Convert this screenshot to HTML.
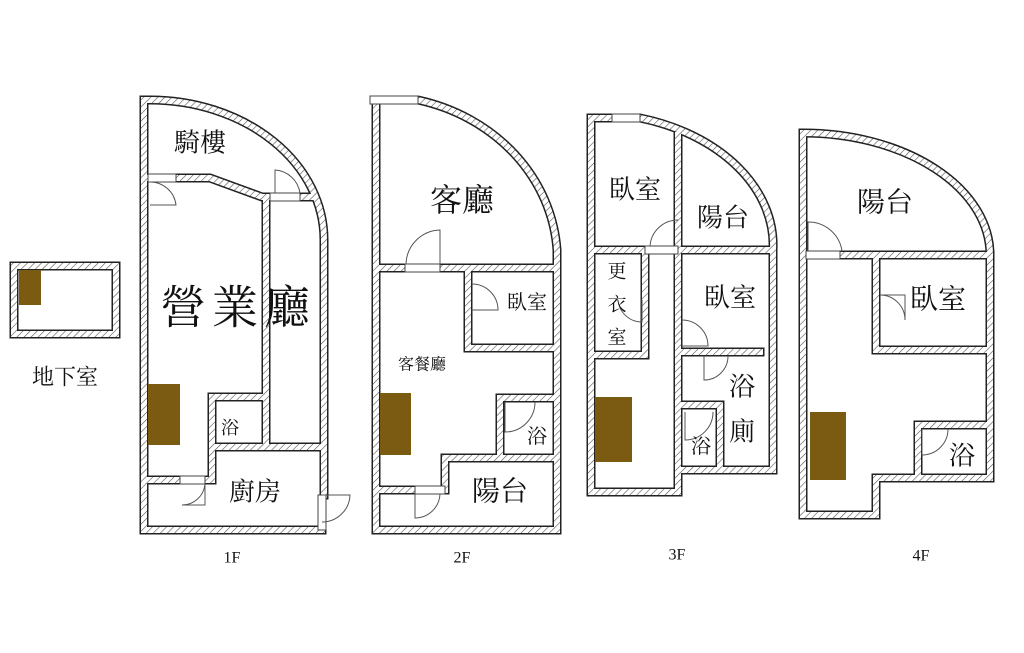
<!DOCTYPE html>
<html><head><meta charset="utf-8"><style>
html,body{margin:0;padding:0;background:#fff;}
svg{display:block}
text{font-family:"Liberation Serif","Noto Serif CJK SC","Noto Sans CJK TC",serif;fill:#111;text-anchor:middle;dominant-baseline:central}
</style></head><body>
<svg width="1024" height="653" viewBox="0 0 1024 653" xmlns="http://www.w3.org/2000/svg">
<defs>
<pattern id="h" width="5" height="5" patternUnits="userSpaceOnUse" patternTransform="rotate(45)">
<rect width="5" height="5" fill="#fff"/><line x1="0" y1="0" x2="0" y2="5" stroke="#555" stroke-width="1.2"/>
</pattern>
</defs>
<rect width="1024" height="653" fill="#fff"/>
<g id="walls" fill="none" stroke-linejoin="miter" stroke-linecap="square">
<g stroke="#222" stroke-width="9">
<rect x="14" y="266" width="102" height="68"/>
<path d="M144 530 V100 H150 A174 140 0 0 1 324 240 V495 M322 530 H144"/>
<path d="M144 178 H210 L262 197 H270 M300 197 H313 M266 200 V447 M212 447 H324 M212 397 H266 M212 397 V480 M144 480 H180 M205 480 H212"/>
<path d="M376 530 V100 H418 A181 165 0 0 1 557 250 V530 H376"/>
<path d="M376 268 H405 M440 268 H557 M468 268 V348 H557 M500 398 H557 M500 398 V458 M445 458 H557 M445 458 V490 H376"/>
<path d="M591 492 V118 H640 A182 132 0 0 1 773 250 V470 H678 V492 H591"/>
<path d="M678 135 V470 M591 250 H645 M678 250 H773 M645 250 V355 H591 M678 352 H760 M678 405 H720 V465"/>
<path d="M803 515 V133 A187 122 0 0 1 990 255 V478 H876 V515 H803"/>
<path d="M840 255 H990 M876 255 V350 H990 M918 425 V478 M918 425 H990"/>
</g>
<g stroke="url(#h)" stroke-width="6">
<rect x="14" y="266" width="102" height="68"/>
<path d="M144 530 V100 H150 A174 140 0 0 1 324 240 V495 M322 530 H144"/>
<path d="M144 178 H210 L262 197 H270 M300 197 H313 M266 200 V447 M212 447 H324 M212 397 H266 M212 397 V480 M144 480 H180 M205 480 H212"/>
<path d="M376 530 V100 H418 A181 165 0 0 1 557 250 V530 H376"/>
<path d="M376 268 H405 M440 268 H557 M468 268 V348 H557 M500 398 H557 M500 398 V458 M445 458 H557 M445 458 V490 H376"/>
<path d="M591 492 V118 H640 A182 132 0 0 1 773 250 V470 H678 V492 H591"/>
<path d="M678 135 V470 M591 250 H645 M678 250 H773 M645 250 V355 H591 M678 352 H760 M678 405 H720 V465"/>
<path d="M803 515 V133 A187 122 0 0 1 990 255 V478 H876 V515 H803"/>
<path d="M840 255 H990 M876 255 V350 H990 M918 425 V478 M918 425 H990"/>
</g>
</g>
<g fill="#fff" stroke="#444" stroke-width="1">
<rect x="148" y="174" width="28" height="8"/><rect x="270" y="193" width="30" height="8"/>
<rect x="180" y="476" width="25" height="8"/><rect x="318" y="495" width="8" height="35"/>
<rect x="405" y="264" width="35" height="8"/><rect x="370" y="96" width="48" height="8"/>
<rect x="415" y="486" width="30" height="8"/>
<rect x="645" y="246" width="33" height="8"/><rect x="612" y="114" width="28" height="8"/>
<rect x="806" y="251" width="34" height="8"/>
</g>
<g fill="none" stroke="#555" stroke-width="1">
<path d="M150 205 H176 A26 26 0 0 0 150 182"/>
<path d="M275 193 V170 A27 27 0 0 1 300 193"/>
<path d="M182 505 H205 V484"/><path d="M205 484 A23 23 0 0 1 182 505"/>
<path d="M322 495 H350 A28 28 0 0 1 322 522"/>
<path d="M406 264 A35 35 0 0 1 440 230 V264"/>
<path d="M472 284 A26 26 0 0 1 498 310 H472"/>
<path d="M505 402 V432 A30 30 0 0 0 535 402"/>
<path d="M415 494 V518 A25 25 0 0 0 440 494"/>
<path d="M650 246 A28 28 0 0 1 678 220"/>
<path d="M618 300 A24 24 0 0 0 642 322 V300"/>
<path d="M682 320 A26 26 0 0 1 708 346 H682"/>
<path d="M704 356 V380 A24 24 0 0 0 728 356"/>
<path d="M685 412 V440 A28 28 0 0 0 713 412"/>
<path d="M808 251 V222 A34 34 0 0 1 842 251"/>
<path d="M880 295 H905 V320 A25 25 0 0 0 880 295"/>
<path d="M922 429 V455 A26 26 0 0 0 948 429"/>
</g>
<g fill="#7b5a12">
<rect x="19" y="270" width="22" height="35"/>
<rect x="148" y="384" width="32" height="61"/>
<rect x="380" y="393" width="31" height="62"/>
<rect x="595" y="397" width="37" height="65"/>
<rect x="810" y="412" width="36" height="68"/>
</g>
<text x="65" y="377" font-size="22">地下室</text>
<text x="200" y="143" font-size="26">騎樓</text>
<text x="238" y="308" font-size="46" letter-spacing="6">營業廳</text>
<text x="230" y="428" font-size="18">浴</text>
<text x="255" y="492" font-size="26">廚房</text>
<text x="232" y="558" font-size="16">1F</text>
<text x="462" y="200" font-size="32">客廳</text>
<text x="527" y="303" font-size="20">臥室</text>
<text x="422" y="365" font-size="16">客餐廳</text>
<text x="537" y="437" font-size="20">浴</text>
<text x="500" y="492" font-size="28">陽台</text>
<text x="462" y="558" font-size="16">2F</text>
<text x="635" y="190" font-size="26">臥室</text>
<text x="723" y="218" font-size="26">陽台</text>
<text x="617" y="272" font-size="19">更</text>
<text x="617" y="305" font-size="19">衣</text>
<text x="617" y="338" font-size="19">室</text>
<text x="730" y="298" font-size="26">臥室</text>
<text x="742" y="387" font-size="26">浴</text>
<text x="742" y="432" font-size="26">廁</text>
<text x="701" y="447" font-size="20">浴</text>
<text x="677" y="555" font-size="16">3F</text>
<text x="885" y="203" font-size="28">陽台</text>
<text x="938" y="300" font-size="28">臥室</text>
<text x="962" y="456" font-size="26">浴</text>
<text x="921" y="556" font-size="16">4F</text>
</svg>
</body></html>
